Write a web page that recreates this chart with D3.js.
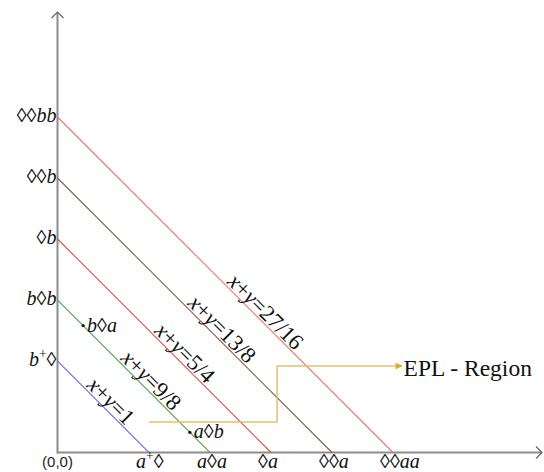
<!DOCTYPE html>
<html><head><meta charset="utf-8">
<script src="https://cdn.jsdelivr.net/npm/d3@7"></script>
<style>body{margin:0;background:#fff}svg{display:block}</style>
</head><body>
<script>
// ---- data (schematic positions, not to scale) ----
const lineLabels  = ["x+y=1", "x+y=9/8", "x+y=5/4", "x+y=13/8", "x+y=27/16"];
const intercepts  = [1.5, 2.5, 3.5, 4.5, 5.5];
const xTickLabels = ["a^+◊", "a◊a", "◊a", "◊◊a", "◊◊aa"];
const yTickLabels = ["b^+◊", "b◊b", "◊b", "◊◊b", "◊◊bb"];
const pointLabels = ["b◊a", "a◊b"];
const pointX      = [0.42, 2.17];   // points lie on x+y=9/8 line
const pointLineIndex = 1;
const regionLabel = "EPL - Region";
const originLabel = "(0,0)";

// ---- styles ----
const lineColors = ["#7b78d8", "#5faa5a", "#da4d4a", "#8a5a4c", "#e07a6c"];
const axisColor = "#8c8c8c";
const W = 544, H = 472;

const svg = d3.select("body").append("svg").attr("width", W).attr("height", H);

const x = d3.scaleLinear().domain([0, 8]).range([57.5, 57.5 + 8 * 61]);
const y = d3.scaleLinear().domain([0, 8]).range([452.5, 452.5 - 8 * 61]);

const serif = "'Liberation Serif', 'Times New Roman', serif";

// rich text: letters italic, ^+ superscript
function rich(sel, str, size) {
  sel.attr("font-family", serif).attr("font-size", size);
  let i = 0, pendingDy = 0;
  while (i < str.length) {
    const ch = str[i];
    if (ch === "^") {
      sel.append("tspan").attr("dy", -size * 0.4).attr("font-size", size * 0.68).text(str[i + 1]);
      pendingDy = size * 0.4;
      i += 2; continue;
    }
    const t = sel.append("tspan").text(ch);
    if (pendingDy) { t.attr("dy", pendingDy); pendingDy = 0; }
    if (/[a-z]/.test(ch)) t.attr("font-style", "italic");
    i++;
  }
}

// ---- axes ----
const xEnd = 542, yEnd = 12;
svg.append("line").attr("x1", x(0)).attr("y1", y(0)).attr("x2", xEnd).attr("y2", y(0))
  .attr("stroke", axisColor).attr("stroke-width", 2);
svg.append("line").attr("x1", x(0)).attr("y1", y(0) + 1).attr("x2", x(0)).attr("y2", yEnd)
  .attr("stroke", axisColor).attr("stroke-width", 2);
svg.append("path").attr("d", `M${xEnd - 6},${y(0) - 6}L${xEnd},${y(0)}L${xEnd - 6},${y(0) + 6}`)
  .attr("fill", "none").attr("stroke", "#666").attr("stroke-width", 1.2);
svg.append("path").attr("d", `M${x(0) - 6},${yEnd + 6}L${x(0)},${yEnd}L${x(0) + 6},${yEnd + 6}`)
  .attr("fill", "none").attr("stroke", "#666").attr("stroke-width", 1.2);

// ---- diagonal lines ----
const g = svg.append("g");
intercepts.forEach((c, i) => {
  g.append("line")
    .attr("x1", x(0)).attr("y1", y(c)).attr("x2", x(c)).attr("y2", y(0))
    .attr("stroke", lineColors[i]).attr("stroke-width", 1.1);
});

// line labels
const labelFrac = [0.51, 0.57, 0.565, 0.575, 0.6];
intercepts.forEach((c, i) => {
  const f = labelFrac[i];
  const px = x(c * f), py = y(c * (1 - f));
  const t = svg.append("text")
    .attr("transform", `translate(${px + 1.5},${py - 1.5}) rotate(45)`)
    .attr("text-anchor", "middle").attr("fill", "#111");
  const s = lineLabels[i];
  t.attr("font-family", serif).attr("font-size", 22.5);
  for (const ch of s) {
    const sp = t.append("tspan").text(ch);
    if (/[a-z]/.test(ch)) sp.attr("font-style", "italic");
  }
});

// ---- tick labels ----
intercepts.forEach((c, i) => {
  const t = svg.append("text").attr("x", x(c) - 13).attr("y", y(0) + 15)
    .attr("text-anchor", "start").attr("fill", "#111");
  rich(t, xTickLabels[i], 20);
  const u = svg.append("text").attr("x", x(0) - 1).attr("y", y(c) + 5)
    .attr("text-anchor", "end").attr("fill", "#111");
  rich(u, yTickLabels[i], 20);
});
svg.append("text").attr("x", x(0)).attr("y", y(0) + 14).attr("text-anchor", "middle")
  .attr("font-family", "'Liberation Sans', Arial, sans-serif").attr("font-size", 15)
  .attr("fill", "#222").text(originLabel);

// ---- points ----
const cP = intercepts[pointLineIndex];
pointX.forEach((px, i) => {
  svg.append("circle").attr("cx", x(px)).attr("cy", y(cP - px)).attr("r", 1.6).attr("fill", "#111");
  const t = svg.append("text").attr("x", x(px) + 4).attr("y", y(cP - px) + 6).attr("fill", "#111");
  rich(t, pointLabels[i], 20);
});

// ---- EPL region connector ----
const yellow = "#e3c06e";
const p0 = [x(intercepts[0]), y(0.5)];
const p1 = [x(3.6), y(0.5)];
const p2 = [x(3.6), y(1.42)];
const p3 = [x(5.64), y(1.42)];
svg.append("path").attr("d", `M${p0}L${p1}L${p2}L${p3}`)
  .attr("fill", "none").attr("stroke", yellow).attr("stroke-width", 1.5);
svg.append("path").attr("d", `M${p3[0] - 6},${p3[1] - 3.5}L${p3[0] + 1},${p3[1]}L${p3[0] - 6},${p3[1] + 3.5}Z`)
  .attr("fill", "#d9a93a");
svg.append("text").attr("x", p3[0] + 2).attr("y", p3[1] + 10)
  .attr("font-family", serif).attr("font-size", 23.5).attr("fill", "#111").text(regionLabel);
</script>
</body></html>
